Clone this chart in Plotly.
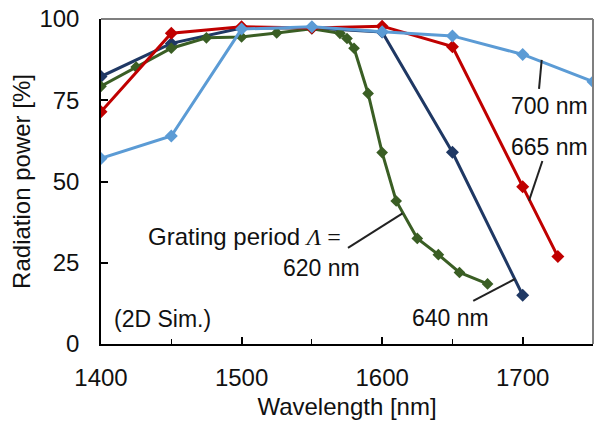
import plotly.graph_objects as go

# ---- data ----
wl_620 = [1400, 1425, 1450, 1475, 1500, 1525, 1550, 1570, 1575, 1580, 1590, 1600, 1610, 1625, 1640, 1655, 1675]
p_620 = [79.3, 85.2, 91.0, 94.2, 94.5, 95.7, 97.0, 95.6, 94.0, 91.0, 77.1, 58.9, 44.0, 32.5, 27.5, 22.0, 18.5]

wl_640 = [1400, 1450, 1500, 1550, 1600, 1650, 1700]
p_640 = [82.3, 92.5, 97.2, 97.2, 96.0, 59.0, 15.0]

wl_665 = [1400, 1450, 1500, 1550, 1600, 1650, 1700, 1725]
p_665 = [71.5, 95.6, 97.6, 97.2, 97.8, 91.5, 48.4, 26.9]

wl_700 = [1400, 1450, 1500, 1550, 1600, 1650, 1700, 1750]
p_700 = [57.1, 64.0, 96.9, 97.6, 96.1, 94.8, 89.1, 80.7]

x_ticks = [1400, 1500, 1600, 1700]
y_ticks = [0, 25, 50, 75, 100]

FONT = "Liberation Sans, Arial, Helvetica, sans-serif"
FS = 24
FA = 23

fig = go.Figure()

def add(x, y, color, msize, name):
    fig.add_trace(go.Scatter(
        x=x, y=y, mode="lines+markers", name=name,
        line=dict(color=color, width=3),
        marker=dict(symbol="diamond", size=msize, color=color),
        showlegend=False,
    ))

add(wl_640, p_640, "#1F3864", 10, "640 nm")
add(wl_620, p_620, "#3A5E24", 9, "620 nm")
add(wl_665, p_665, "#C00000", 10, "665 nm")
add(wl_700, p_700, "#5B9BD5", 10, "700 nm")

# leader lines for labels
leaders = [
    ((1713.5, 87.4), (1711.6, 78.5)),
    ((1714.0, 56.3), (1704.5, 44.1)),
    ((1575.7, 29.6), (1614.5, 40.2)),
    ((1664.8, 13.3), (1694.5, 20.0)),
]
shapes = []
for (x0, y0), (x1, y1) in leaders:
    shapes.append(dict(type="line", xref="x", yref="y", x0=x0, y0=y0, x1=x1, y1=y1,
                       line=dict(color="#222222", width=2)))
# gray top and right frame
shapes.append(dict(type="line", xref="paper", yref="paper", x0=0, y0=1, x1=1, y1=1,
                   line=dict(color="#7F7F7F", width=2)))
shapes.append(dict(type="line", xref="paper", yref="paper", x0=1, y0=0, x1=1, y1=1,
                   line=dict(color="#7F7F7F", width=2)))

tf = dict(family=FONT, size=FA, color="#111111")
tf_big = dict(family=FONT, size=FS, color="#111111")
annotations = [
    dict(x=1718.7, y=73.2, text="700 nm", showarrow=False, xanchor="center", yanchor="middle", font=tf),
    dict(x=1719.4, y=60.6, text="665 nm", showarrow=False, xanchor="center", yanchor="middle", font=tf),
    dict(x=1572, y=33.2,
         text="Grating period <span style=\"font-family:'Liberation Serif', 'Times New Roman', serif\"><i>Λ</i> =</span>",
         showarrow=False, xanchor="right", yanchor="middle", font=tf_big),
    dict(x=1556.8, y=23.4, text="620 nm", showarrow=False, xanchor="center", yanchor="middle", font=tf),
    dict(x=1648.9, y=8.0, text="640 nm", showarrow=False, xanchor="center", yanchor="middle", font=tf),
    dict(x=1407.9, y=7.7, text="(2D Sim.)", showarrow=False, xanchor="left", yanchor="middle", font=tf),
]

fig.update_layout(
    width=597, height=425,
    margin=dict(l=101, r=4, t=19, b=81),
    paper_bgcolor="white", plot_bgcolor="white",
    font=dict(family=FONT, size=FS, color="#111111"),
    shapes=shapes, annotations=annotations,
    xaxis=dict(
        range=[1400, 1750], tickvals=x_ticks, ticks="inside", ticklen=7, tickwidth=1.5,
        tickcolor="black", showline=True, linecolor="black", linewidth=1.5,
        showgrid=False, zeroline=False, ticklabelstandoff=11,
        minor=dict(dtick=50, ticks="inside", ticklen=5, tickwidth=1.2, tickcolor="black", showgrid=False),
        title=dict(text="Wavelength [nm]", standoff=9, font=dict(family=FONT, size=FS)),
        tickfont=dict(family=FONT, size=FS),
    ),
    yaxis=dict(
        range=[0, 100], tickvals=y_ticks, ticks="inside", ticklen=7, tickwidth=1.5,
        tickcolor="black", showline=True, linecolor="black", linewidth=1.5,
        showgrid=False, zeroline=False, ticklabelstandoff=15,
        title=dict(text="Radiation power [%]", standoff=2, font=dict(family=FONT, size=FS)),
        tickfont=dict(family=FONT, size=FS),
    ),
)

fig.write_html("out.html")
